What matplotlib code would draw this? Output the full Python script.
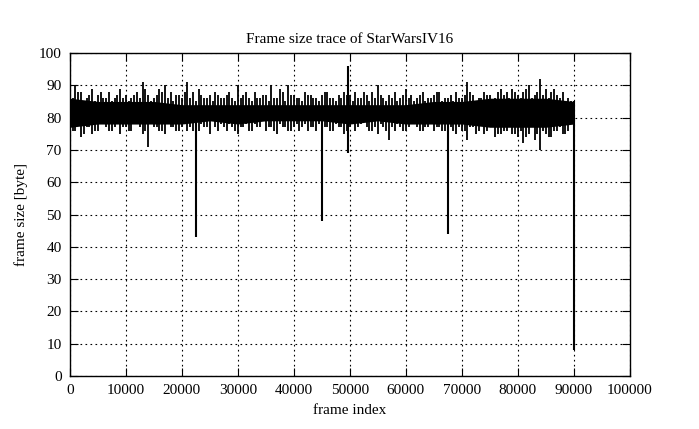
import numpy as np
import matplotlib
matplotlib.use('Agg')
import matplotlib.pyplot as plt

# per-1000-frame envelope of the trace
frames = np.arange(0, 91000, 1000)
hi = [94, 90, 88, 86, 89, 87, 86, 88, 86, 89,
      87, 86, 88, 91, 87, 86, 89, 90, 88, 87,
      86, 91, 88, 89, 86, 87, 88, 86, 87, 86,
      90, 87, 86, 88, 86, 87, 90, 86, 88, 90,
      87, 86, 88, 87, 86, 87, 88, 86, 87, 88,
      87, 88, 86, 87, 88, 90, 86, 87, 88, 86,
      89, 87, 86, 88, 86, 87, 88, 86, 87, 88,
      86, 91, 87, 86, 88, 87, 86, 89, 88, 89,
      87, 88, 90, 87, 92, 89, 88, 87, 88, 86,
      85]
lo = [74, 76, 74, 77, 75, 76, 78, 76, 77, 75,
      77, 76, 78, 75, 71, 77, 76, 75, 77, 76,
      77, 76, 76, 76, 77, 75, 77, 78, 76, 77,
      75, 77, 76, 78, 77, 76, 77, 75, 77, 76,
      77, 76, 78, 77, 76, 76, 77, 76, 77, 75,
      77, 76, 78, 77, 76, 75, 77, 73, 76, 77,
      76, 78, 77, 76, 77, 76, 77, 76, 77, 75,
      76, 73, 77, 76, 75, 77, 74, 75, 76, 75,
      74, 72, 75, 73, 70, 75, 74, 76, 75, 76,
      77]

# envelope between those samples (frames 500, 1500, ... 89500)
mid_frames = np.arange(500, 90000, 1000)
hi2 = [86, 88, 85, 87, 85, 88, 86, 85, 87, 86,
       85, 87, 86, 89, 85, 87, 88, 86, 85, 87,
       88, 86, 85, 87, 86, 85, 87, 86, 88, 85,
       86, 88, 85, 86, 87, 85, 86, 89, 85, 87,
       86, 85, 87, 86, 85, 88, 86, 85, 86, 87,
       85, 86, 88, 85, 86, 87, 85, 86, 85, 87,
       86, 85, 87, 85, 86, 88, 85, 86, 85, 86,
       87, 88, 85, 86, 87, 85, 88, 87, 86, 88,
       86, 89, 86, 88, 87, 86, 89, 86, 85, 85]
lo2 = [76, 78, 75, 77, 76, 78, 77, 76, 78, 77,
       76, 78, 77, 76, 78, 77, 76, 78, 77, 76,
       78, 77, 76, 78, 77, 79, 76, 77, 78, 76,
       77, 78, 76, 77, 79, 77, 76, 78, 77, 76,
       78, 77, 76, 77, 78, 77, 76, 78, 77, 76,
       78, 77, 79, 76, 77, 78, 76, 77, 78, 76,
       77, 78, 76, 77, 78, 77, 76, 78, 76, 77,
       76, 77, 75, 78, 76, 77, 75, 76, 77, 75,
       76, 74, 77, 75, 76, 74, 76, 77, 75, 78]

# solid core of the band, every 5000 frames
core_frames = np.arange(0, 95000, 5000)
core_lo = [77, 78, 78, 78, 78, 79, 78, 79, 79, 79, 78, 79, 78, 78, 78, 77, 77, 77, 78]
core_hi = [86, 85, 85, 85, 84, 84, 84, 84, 84, 84, 84, 84, 84, 85, 85, 86, 86, 86, 85]

# isolated large spikes
spike_frames = [22500, 45000, 49700, 67500, 90000]
spike_lo = [43, 48, 69, 44, 8]
spike_hi = [80, 80, 96, 80, 85]

plt.rcParams['font.family'] = ['Liberation Serif', 'DejaVu Serif']
fig = plt.figure(figsize=(6.99, 4.29), dpi=100)
ax = fig.add_axes([0.100, 0.1235, 0.801, 0.753])

ax.fill_between(core_frames, core_lo, core_hi, color='black', lw=0)
ax.vlines(frames, lo, hi, color='black', lw=1.3)
ax.vlines(mid_frames, lo2, hi2, color='black', lw=1.3)
ax.vlines(spike_frames, spike_lo, spike_hi, color='black', lw=1.5)

ax.set_xlim(0, 100000)
ax.set_ylim(0, 100)
ax.set_xticks(np.arange(0, 100001, 10000))
ax.set_yticks(np.arange(0, 101, 10))
ax.grid(True, color='black', linestyle=(0, (1.5, 3)), lw=0.8)
ax.tick_params(direction='in', top=True, right=True, length=6, width=0.8,
               labelsize=11, pad=6)
for s in ax.spines.values():
    s.set_linewidth(1.0)

ax.set_title('Frame size trace of StarWarsIV16', fontsize=11, pad=7)
ax.set_xlabel('frame index', fontsize=11, labelpad=5)
ax.set_ylabel('frame size [byte]', fontsize=11, labelpad=8)

fig.savefig('out.png', dpi=100)
